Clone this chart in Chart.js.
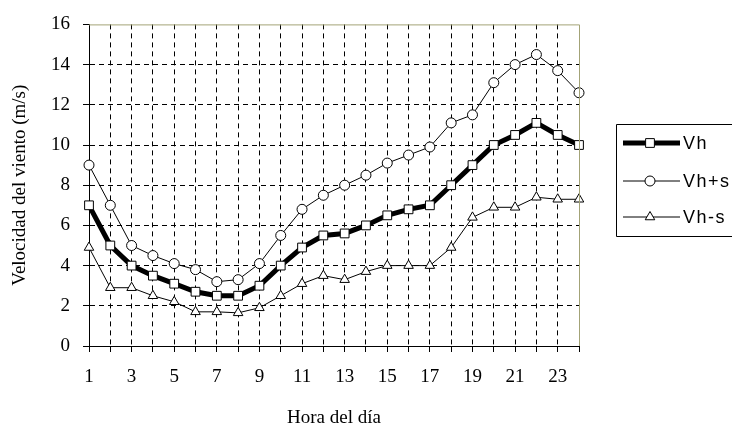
<!DOCTYPE html>
<html>
<head>
<meta charset="utf-8">
<script src="https://cdn.jsdelivr.net/npm/chart.js@4"></script>
<style>
  html, body { margin: 0; padding: 0; background: #fff; overflow: hidden; }
  #wrap { width: 732px; height: 429px; }
</style>
</head>
<body>
<div id="wrap"><canvas id="vientoChart" width="732" height="429"></canvas></div>
<script>
// Datos
const horas = [1, 2, 3, 4, 5, 6, 7, 8, 9, 10, 11, 12, 13, 14, 15, 16, 17, 18, 19, 20, 21, 22, 23, 24];
const vh = [7.0, 5.0, 4.0, 3.5, 3.1, 2.7, 2.5, 2.5, 3.0, 4.0, 4.9, 5.5, 5.6, 6.0, 6.5, 6.8, 7.0, 8.0, 9.0, 10.0, 10.5, 11.1, 10.5, 10.0];
const vhMas = [9.0, 7.0, 5.0, 4.5, 4.1, 3.8, 3.2, 3.3, 4.1, 5.5, 6.8, 7.5, 8.0, 8.5, 9.1, 9.5, 9.9, 11.1, 11.5, 13.1, 14.0, 14.5, 13.7, 12.6];
const vhMenos = [4.9, 2.9, 2.9, 2.5, 2.2, 1.7, 1.7, 1.65, 1.9, 2.5, 3.1, 3.5, 3.3, 3.7, 4.0, 4.0, 4.0, 4.9, 6.4, 6.9, 6.9, 7.4, 7.3, 7.3];
const yTicks = [0, 2, 4, 6, 8, 10, 12, 14, 16];

const serif = "'Liberation Serif', 'Times New Roman', serif";
const sans = "'Liberation Sans', Arial, sans-serif";
const marcoColor = "#a3a377";

// marco superior/derecho y leyenda con recuadro
const marcoYLeyenda = {
    id: "marcoYLeyenda",
    afterDraw(chart) {
        const ctx = chart.ctx;
        const a = chart.chartArea;
        ctx.save();
        ctx.strokeStyle = marcoColor;
        ctx.lineWidth = 1;
        ctx.beginPath();
        ctx.moveTo(a.left, a.top + 0.5);
        ctx.lineTo(a.right + 0.5, a.top + 0.5);
        ctx.lineTo(a.right + 0.5, a.bottom);
        ctx.stroke();

        // leyenda (el recuadro sigue fuera del lienzo por la derecha)
        ctx.strokeStyle = "#000";
        ctx.lineWidth = 1;
        ctx.beginPath();
        ctx.moveTo(760, 124.5);
        ctx.lineTo(616.5, 124.5);
        ctx.lineTo(616.5, 236.5);
        ctx.lineTo(760, 236.5);
        ctx.stroke();
        const filas = [143, 181, 217];
        ctx.font = "18px " + sans;
        ctx.textBaseline = "middle";
        ctx.fillStyle = "#000";
        chart.data.datasets.forEach((ds, i) => {
            const y = filas[i];
            ctx.beginPath();
            ctx.lineWidth = ds.borderWidth;
            ctx.strokeStyle = ds.borderColor;
            ctx.moveTo(623, y);
            ctx.lineTo(680, y);
            ctx.stroke();
            ctx.lineWidth = 1;
            ctx.fillStyle = "#fff";
            Chart.helpers.drawPoint(ctx, {
                pointStyle: ds.pointStyle,
                radius: ds.pointRadius,
                borderWidth: 1
            }, 650, y);
            ctx.fillStyle = "#000";
            ctx.fillText(ds.label.split("").join(String.fromCharCode(8202)), 683, y + 1);
        });
        ctx.restore();
    }
};

const ctx = document.getElementById("vientoChart").getContext("2d");
new Chart(ctx, {
    type: "line",
    data: {
        labels: horas,
        datasets: [
            {
                label: "Vh",
                data: vh,
                borderColor: "#000",
                borderWidth: 5,
                pointStyle: "rect",
                pointRadius: 6.2,
                pointBorderWidth: 1,
                pointBackgroundColor: "#fff",
                pointBorderColor: "#000",
                tension: 0,
                order: 0,
            },
            {
                label: "Vh+s",
                data: vhMas,
                borderColor: "#000",
                borderWidth: 1,
                pointStyle: "circle",
                pointRadius: 5,
                pointBorderWidth: 1,
                pointBackgroundColor: "#fff",
                pointBorderColor: "#000",
                tension: 0,
                order: 1,
            },
            {
                label: "Vh-s",
                data: vhMenos,
                borderColor: "#000",
                borderWidth: 1,
                pointStyle: "triangle",
                pointRadius: 5.5,
                pointBorderWidth: 1,
                pointBackgroundColor: "#fff",
                pointBorderColor: "#000",
                tension: 0,
                order: 2,
            },
        ],
    },
    options: {
        responsive: false,
        animation: false,
        devicePixelRatio: 1,
        layout: {
            padding: { left: 0, top: 17, right: 153, bottom: 0 },
        },
        scales: {
            x: {
                type: "category",
                offset: false,
                afterFit: (s) => { s.height = 83; },
                grid: {
                    color: (c) => (c.index === 0 || c.index === horas.length - 1 ? "rgba(0,0,0,0)" : "#000"),
                    tickColor: "#000",
                    lineWidth: 1,
                    tickLength: 6,
                    tickBorderDash: [],
                },
                border: { display: true, color: "#000", width: 1, dash: [5, 4] },
                ticks: {
                    autoSkip: false,
                    maxRotation: 0,
                    minRotation: 0,
                    padding: 14,
                    color: "#000",
                    font: { family: serif, size: 19 },
                    callback: (v, i) => (horas[i] % 2 === 1 ? String(horas[i]) : ""),
                },
                title: {
                    display: true,
                    text: "Hora del día",
                    color: "#000",
                    font: { family: serif, size: 19 },
                    padding: { top: 0, bottom: 0 },
                },
            },
            y: {
                min: 0,
                max: 16,
                afterFit: (s) => { s.width = 89; },
                afterBuildTicks: (s) => { s.ticks = yTicks.map((v) => ({ value: v })); },
                grid: {
                    color: (c) => (c.tick && (c.tick.value === 0 || c.tick.value === 16) ? "rgba(0,0,0,0)" : "#000"),
                    tickColor: "#000",
                    lineWidth: 1,
                    tickLength: 6,
                    tickBorderDash: [],
                },
                border: { display: true, color: "#000", width: 1, dash: [5, 4] },
                ticks: {
                    padding: 13,
                    color: "#000",
                    font: { family: serif, size: 19 },
                },
                title: {
                    display: true,
                    text: "Velocidad del viento (m/s)",
                    color: "#000",
                    font: { family: serif, size: 19 },
                    padding: { top: 9, bottom: 0 },
                },
            },
        },
        plugins: {
            legend: { display: false },
            tooltip: { enabled: false },
        },
    },
    plugins: [marcoYLeyenda],
});
</script>
</body>
</html>
